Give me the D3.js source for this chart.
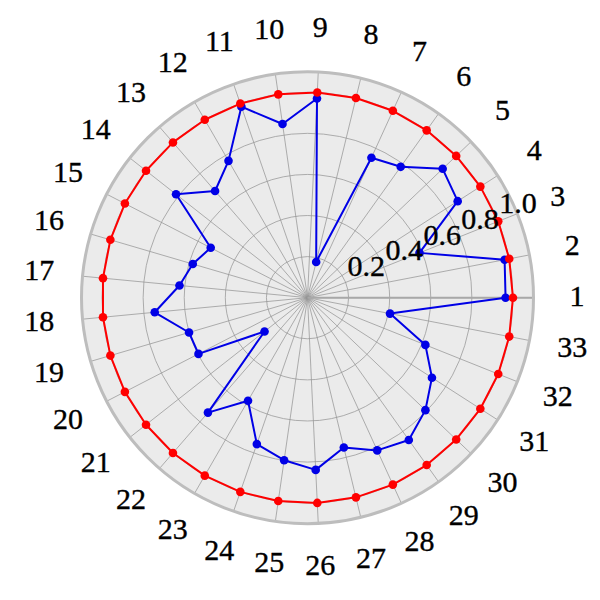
<!DOCTYPE html>
<html>
<head>
<meta charset="utf-8">
<script src="https://cdn.jsdelivr.net/npm/d3@7"></script>
<style>
  html, body { margin: 0; padding: 0; background: #fff; }
  svg { display: block; }
  text { font-family: "Liberation Serif", "Times New Roman", serif; }
</style>
</head>
<body>
<svg id="chart" width="600" height="600"></svg>
<script>
// ---- data ----
const categories = ["1","2","3","4","5","6","7","8","9","10","11","12","13","14","15","16","17","18","19","20","21","22","23","24","25","26","27","28","29","30","31","32","33"];
const redValues = [1,1,1,1,1,1,1,1,1,1,1,1,1,1,1,1,1,1,1,1,1,1,1,1,1,1,1,1,1,1,1,1,1];
const blueValues = [0.964,0.977,0.587,0.869,0.909,0.782,0.749,0.179,0.971,0.854,0.984,0.769,0.687,0.814,0.530,0.582,0.626,0.747,0.601,0.597,0.266,0.740,0.579,0.754,0.799,0.839,0.750,0.817,0.850,0.793,0.720,0.618,0.409];
const radialTicks = [0.2, 0.4, 0.6, 0.8, 1.0];
const radialTickLabels = ["0.2", "0.4", "0.6", "0.8", "1.0"];

// ---- layout ----
const cx = 307.5, cy = 297.7;
const rMax = 1.1;
const svg = d3.select("#chart");
const r = d3.scaleLinear().domain([0, rMax]).range([0, 226]);
const theta = d3.scaleLinear().domain([0, categories.length]).range([0, 2 * Math.PI]);
const px = (i, v) => cx + r(v) * Math.cos(theta(i));
const py = (i, v) => cy - r(v) * Math.sin(theta(i));

const g = svg.append("g");

// background
g.append("circle").attr("cx", cx).attr("cy", cy).attr("r", r(rMax)).attr("fill", "#ebebeb");

// circular grid
g.selectAll("circle.grid").data(radialTicks).join("circle")
  .attr("class", "grid")
  .attr("cx", cx).attr("cy", cy).attr("r", d => r(d))
  .attr("fill", "none").attr("stroke", "#959595").attr("stroke-width", 0.75);

// radial grid lines
g.selectAll("line.spoke").data(categories).join("line")
  .attr("class", "spoke")
  .attr("x1", cx).attr("y1", cy)
  .attr("x2", (d, i) => px(i, rMax)).attr("y2", (d, i) => py(i, rMax))
  .attr("stroke", "#959595").attr("stroke-width", 0.75);

// darker zero line
g.append("line")
  .attr("x1", cx).attr("y1", cy).attr("x2", px(0, rMax)).attr("y2", py(0, rMax))
  .attr("stroke", "#a8a8a8").attr("stroke-width", 2);

// outer spine
g.append("circle").attr("cx", cx).attr("cy", cy).attr("r", r(rMax))
  .attr("fill", "none").attr("stroke", "#bdbdbd").attr("stroke-width", 3);

// series
function drawSeries(values, color) {
  const pts = values.map((v, i) => [px(i, v), py(i, v)]);
  g.append("path")
    .attr("d", d3.line().curve(d3.curveLinearClosed)(pts))
    .attr("fill", "none").attr("stroke", color).attr("stroke-width", 2).attr("stroke-linejoin", "round");
  g.selectAll(null).data(pts).join("circle")
    .attr("cx", d => d[0]).attr("cy", d => d[1]).attr("r", 4.3).attr("fill", color);
}
drawSeries(blueValues, "#0000e6");
drawSeries(redValues, "#ff0000");

// radial tick labels
const rlabAngle = 22.5 * Math.PI / 180;
g.selectAll("text.rlab").data(radialTicks).join("text")
  .attr("class", "rlab")
  .attr("x", d => cx + r(d) * Math.cos(rlabAngle) + 2)
  .attr("y", d => cy - r(d) * Math.sin(rlabAngle) - 6)
  .attr("text-anchor", "start")
  .style("font-family", "'Liberation Serif', 'Times New Roman', serif")
  .style("font-size", "30px")
  .attr("fill", "#000").attr("stroke", "#000").attr("stroke-width", 0.35)
  .text((d, i) => radialTickLabels[i]);

// category labels
const labelR = 269.5, labelCy = cy - 2;
g.selectAll("text.cat").data(categories).join("text")
  .attr("class", "cat")
  .attr("x", (d, i) => cx + labelR * Math.cos(theta(i)))
  .attr("y", (d, i) => labelCy - labelR * Math.sin(theta(i)) + 10)
  .attr("text-anchor", "middle")
  .style("font-family", "'Liberation Serif', 'Times New Roman', serif")
  .style("font-size", "30px")
  .attr("fill", "#000").attr("stroke", "#000").attr("stroke-width", 0.35)
  .text(d => d);
</script>
</body>
</html>
